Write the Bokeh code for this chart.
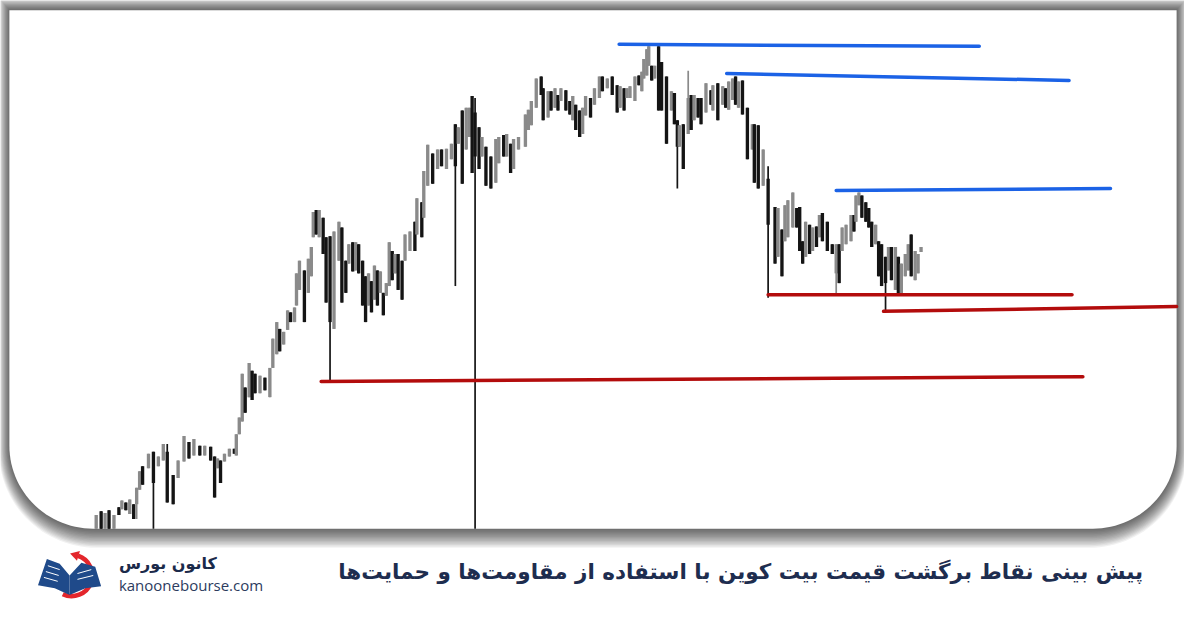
import numpy as np
from bokeh.plotting import figure
from bokeh.models import Range1d, ColumnDataSource
from bokeh.core.properties import value
from bokeh.embed import file_html
from bokeh.resources import INLINE

# ---------------- candle data (time offset, open, high, low, close in chart level units) -------------
t = [0, 5, 9, 13, 18, 23, 26, 30, 34, 38,
     41, 44, 47, 53, 58, 63, 68, 72, 78, 83,
     89, 94, 99, 105, 110, 116, 120, 123, 126, 130,
     135, 140, 142, 145, 148, 151, 155, 158, 161, 166,
     171, 176, 179, 183, 186, 190, 194, 197, 201, 203,
     206, 211, 215, 218, 220, 223, 226, 230, 233, 237,
     241, 246, 249, 253, 256, 260, 263, 266, 270, 273,
     276, 279, 282, 285, 288, 291, 294, 297, 300, 303,
     306, 310, 313, 318, 323, 325, 330, 332, 336, 341,
     346, 350, 355, 360, 364, 367, 371, 375, 378, 381,
     384, 388, 391, 395, 400, 405, 408, 413, 416, 420,
     423, 428, 435, 438, 441, 446, 451, 453, 458, 461,
     465, 468, 471, 476, 480, 483, 486, 490, 493, 496,
     501, 505, 510, 513, 518, 523, 528, 531, 535, 538,
     541, 546, 550, 553, 555, 558, 560, 563, 566, 570,
     573, 578, 583, 586, 589, 591, 595, 600, 603, 606,
     610, 613, 618, 623, 625, 630, 635, 638, 641, 645,
     648, 651, 655, 660, 665, 667, 671, 676, 681, 688,
     691, 695, 698, 701, 706, 710, 713, 716, 719, 723,
     726, 730, 733, 736, 741, 746, 750, 753, 756, 760,
     765, 768, 770, 773, 776, 780, 783, 786, 790, 793,
     796, 800, 803, 806, 810, 813, 816, 820, 823, 826,
     830, 833, 836]

open_ = [78, 96, 78, 97, 78, 100, 98, 105, 93, 103,
         103, 118, 142, 140, 157, 142, 148, 157, 133, 130,
         147, 167, 153, 163, 153, 162, 152, 140, 148, 147,
         152, 160, 153, 175, 188, 223, 213, 240, 237, 217,
         233, 213, 243, 257, 283, 267, 282, 300, 290, 307,
         323, 343, 320, 337, 377, 405, 377, 397, 377, 378,
         283, 353, 387, 353, 350, 372, 343, 370, 353, 337,
         307, 332, 313, 343, 320, 320, 317, 327, 363, 340,
         360, 353, 353, 363, 393, 380, 413, 397, 430, 463,
         447, 467, 447, 457, 493, 473, 507, 467, 480, 522,
         505, 490, 460, 470, 460, 433, 453, 482, 460, 473,
         447, 467, 470, 487, 492, 510, 542, 530, 500, 527,
         510, 523, 517, 528, 517, 497, 513, 507, 483, 502,
         520, 513, 520, 542, 530, 542, 533, 510, 530, 520,
         520, 517, 543, 527, 540, 543, 553, 553, 540, 573,
         557, 542, 507, 525, 497, 470, 493, 483, 523, 497,
         520, 520, 505, 528, 507, 535, 513, 530, 508, 518,
         542, 510, 538, 510, 467, 493, 492, 430, 437, 408,
         357, 385, 373, 377, 387, 407, 408, 373, 357, 390,
         363, 388, 377, 402, 393, 370, 340, 370, 363, 370,
         373, 400, 393, 410, 420, 413, 407, 393, 370, 373,
         370, 357, 343, 367, 323, 357, 317, 337, 343, 380,
         333, 340, 362]

high = [92, 96, 94, 97, 92, 100, 107, 105, 108, 103,
        120, 137, 142, 155, 157, 152, 165, 165, 133, 148,
        173, 167, 170, 163, 163, 162, 152, 150, 148, 155,
        160, 160, 175, 192, 237, 223, 248, 240, 237, 235,
        233, 243, 273, 290, 283, 280, 302, 300, 305, 340,
        353, 343, 355, 367, 403, 405, 405, 397, 377, 378,
        383, 393, 387, 353, 370, 372, 372, 370, 353, 337,
        340, 332, 348, 343, 342, 320, 330, 372, 363, 360,
        360, 353, 380, 383, 393, 417, 413, 445, 472, 463,
        467, 467, 468, 473, 493, 490, 507, 510, 510, 522,
        520, 490, 480, 470, 460, 478, 480, 482, 483, 473,
        478, 480, 503, 508, 517, 540, 542, 530, 527, 527,
        530, 523, 530, 528, 517, 522, 513, 507, 510, 522,
        520, 530, 542, 542, 540, 542, 533, 532, 530, 530,
        532, 542, 543, 547, 560, 570, 573, 553, 553, 573,
        557, 542, 527, 525, 497, 492, 493, 548, 523, 523,
        520, 520, 535, 528, 533, 535, 532, 530, 537, 540,
        542, 537, 538, 510, 493, 493, 492, 467, 450, 408,
        407, 385, 410, 415, 423, 407, 408, 373, 393, 390,
        387, 388, 400, 402, 393, 370, 370, 370, 387, 390,
        400, 400, 420, 423, 420, 413, 407, 393, 390, 373,
        370, 357, 367, 367, 367, 357, 350, 360, 370, 380,
        363, 360, 367]

low = [78, 78, 78, 78, 78, 92, 98, 97, 93, 88,
       88, 118, 123, 140, 78, 142, 148, 105, 103, 130,
       147, 150, 153, 153, 153, 148, 110, 140, 125, 147,
       152, 155, 153, 175, 188, 197, 213, 210, 217, 217,
       220, 213, 243, 257, 260, 267, 282, 290, 290, 307,
       323, 290, 320, 337, 377, 380, 377, 360, 310, 230,
       283, 353, 310, 320, 350, 342, 343, 340, 307, 290,
       307, 300, 313, 307, 320, 297, 317, 327, 333, 340,
       323, 313, 353, 363, 363, 380, 377, 397, 430, 432,
       447, 450, 447, 457, 327, 473, 432, 467, 480, 443,
       78, 447, 460, 430, 427, 433, 453, 460, 460, 443,
       447, 467, 470, 487, 492, 510, 523, 497, 500, 507,
       510, 507, 517, 507, 503, 497, 487, 480, 483, 502,
       500, 513, 520, 527, 530, 523, 505, 510, 507, 520,
       520, 517, 533, 527, 540, 543, 553, 538, 540, 507,
       507, 473, 507, 493, 427, 470, 447, 483, 487, 497,
       500, 493, 505, 513, 507, 497, 513, 510, 508, 518,
       513, 510, 503, 457, 467, 433, 427, 430, 315, 350,
       357, 337, 373, 377, 387, 387, 363, 350, 357, 360,
       363, 367, 377, 373, 363, 360, 318, 330, 363, 370,
       373, 383, 393, 410, 397, 393, 387, 367, 370, 337,
       327, 300, 343, 333, 323, 317, 317, 337, 343, 337,
       333, 340, 362]

close = [92, 78, 94, 78, 92, 92, 107, 97, 108, 88,
         120, 137, 123, 155, 125, 152, 165, 105, 103, 148,
         173, 150, 170, 153, 163, 148, 110, 150, 125, 155,
         160, 155, 175, 192, 237, 197, 248, 210, 217, 235,
         220, 243, 273, 290, 260, 280, 302, 290, 305, 340,
         353, 290, 355, 367, 403, 380, 405, 360, 310, 290,
         383, 393, 310, 320, 370, 342, 372, 340, 307, 290,
         340, 300, 348, 307, 342, 297, 330, 372, 333, 360,
         323, 313, 380, 383, 363, 417, 377, 445, 472, 432,
         467, 450, 468, 473, 450, 490, 432, 510, 510, 443,
         460, 447, 480, 430, 427, 478, 480, 460, 483, 443,
         478, 480, 503, 508, 517, 540, 523, 497, 527, 507,
         530, 507, 530, 507, 503, 522, 487, 480, 510, 522,
         500, 530, 542, 527, 540, 523, 505, 532, 507, 530,
         532, 542, 533, 547, 560, 570, 573, 538, 553, 507,
         507, 473, 527, 493, 470, 492, 447, 520, 487, 523,
         500, 493, 535, 513, 533, 497, 532, 510, 537, 540,
         513, 537, 503, 457, 493, 433, 427, 467, 390, 350,
         407, 337, 410, 415, 423, 387, 363, 350, 393, 360,
         387, 367, 400, 373, 363, 360, 370, 330, 387, 390,
         400, 383, 420, 423, 397, 393, 387, 367, 390, 337,
         327, 330, 367, 333, 367, 317, 350, 360, 370, 337,
         363, 360, 367]

# ---------------- support / resistance levels --------------------------------------------------------
res_t0 = [530, 639, 750]
res_t1 = [895, 986, 1028]
res_y0 = [575, 545, 425]
res_y1 = [573, 538, 427]

sup_t0 = [681, 798, 228]
sup_t1 = [989, 1095, 1000]
sup_y0 = [318, 301, 229]
sup_y1 = [318, 306, 234]

TITLE = "پیش بینی نقاط برگشت قیمت بیت کوین با استفاده از مقاومت\u200cها و حمایت\u200cها"
BRAND_FA = "کانون بورس"
BRAND_URL = "kanoonebourse.com"

# layout space spans the whole 1200 x 628 picture
W, H = 1184, 612
p = figure(width=W, height=H, output_backend="svg", toolbar_location=None,
           x_range=Range1d(0, 1200), y_range=Range1d(0, 628), min_border=0)
p.extra_x_ranges = {"t": Range1d(-97, 1103)}
p.extra_y_ranges = {"lvl": Range1d(-8, 620)}
p.axis.visible = False
p.grid.visible = False
p.outline_line_color = None
p.background_fill_color = "white"
p.border_fill_color = "white"


def card_shape(x0, x1, yb, yt, r, n=30):
    xs = [x0, x1]
    ys = [yt, yt]
    a = np.linspace(0, -np.pi / 2, n)
    xs += list(x1 - r + r * np.cos(a))
    ys += list(yb + r + r * np.sin(a))
    a = np.linspace(-np.pi / 2, -np.pi, n)
    xs += list(x0 + r + r * np.cos(a))
    ys += list(yb + r + r * np.sin(a))
    return xs, ys


CX0, CX1, CYB, CYT, CR = 9, 1192, 86, 618, 85

# shadow layers
for k in range(14, 0, -1):
    xs, ys = card_shape(CX0 - k * 0.75, CX1 + k * 0.75, CYB - k * 1.4, CYT + k * 0.9, CR + k)
    p.patch(xs, ys, fill_color="black", fill_alpha=0.055, line_color=None)

xs, ys = card_shape(CX0, CX1, CYB, CYT, CR)
p.patch(xs, ys, fill_color="white", line_color=None)

# candles
up = [cl > op for op, cl in zip(open_, close)]
colors = ["#8a8a8a" if u else "#141414" for u in up]
src = ColumnDataSource(dict(
    t=t, open=open_, high=high, low=low, close=close,
    top=[max(a, b) for a, b in zip(open_, close)],
    bottom=[min(a, b) for a, b in zip(open_, close)],
    color=colors))
p.segment(x0="t", x1="t", y0="low", y1="high", line_color="color", line_width=1.7,
          source=src, x_range_name="t", y_range_name="lvl")
p.vbar(x="t", top="top", bottom="bottom", width=3.4, fill_color="color",
       line_color=None, source=src, x_range_name="t", y_range_name="lvl")

# levels
p.segment(x0=res_t0, x1=res_t1, y0=res_y0, y1=res_y1, line_color="#1b62e6",
          line_width=3.5, line_cap="round", x_range_name="t", y_range_name="lvl")
p.segment(x0=sup_t0, x1=sup_t1, y0=sup_y0, y1=sup_y1, line_color="#b30c0c",
          line_width=3.5, line_cap="round", x_range_name="t", y_range_name="lvl")

# logo (decorative)
p.arc(x=72, y=38, radius=21, start_angle=np.deg2rad(-115), end_angle=np.deg2rad(72),
      direction="anticlock", line_color="#e3262c", line_width=4.5)
p.patch([70.5, 80.5, 77.5], [60.5, 63.0, 53.0], fill_color="#e3262c", line_color=None)
p.patch([38, 47, 60, 70, 70, 55], [28, 55, 50, 38, 18, 25], fill_color="#1f4a8a", line_color=None)
p.patch([70, 82, 96, 102, 86, 70], [38, 51, 47, 27, 25, 18], fill_color="#1f4a8a", line_color=None)
p.multi_line([[48, 60], [46, 59], [44, 58]], [[48, 44], [42, 38], [36, 32]],
             line_color="white", line_width=1)
p.multi_line([[78, 92], [78, 94]], [[40, 44], [34, 38]], line_color="white", line_width=1)

# texts
p.text(x=[120], y=[50], text=[BRAND_FA], text_font=value("DejaVu Sans"), text_font_size="16px",
       text_font_style="bold", text_color="#1b2a4a", text_align="left", text_baseline="middle")
p.text(x=[120], y=[28], text=[BRAND_URL], text_font=value("Open Sans"), text_font_size="15px",
       text_color="#2c3b5e", text_align="left", text_baseline="middle")
p.text(x=[1158], y=[42], text=[TITLE], text_font=value("DejaVu Sans"), text_font_size="21.5px",
       text_font_style="bold", text_color="#1e2d4f", text_align="right", text_baseline="middle")

open("out.html", "w").write(file_html(p, INLINE))
